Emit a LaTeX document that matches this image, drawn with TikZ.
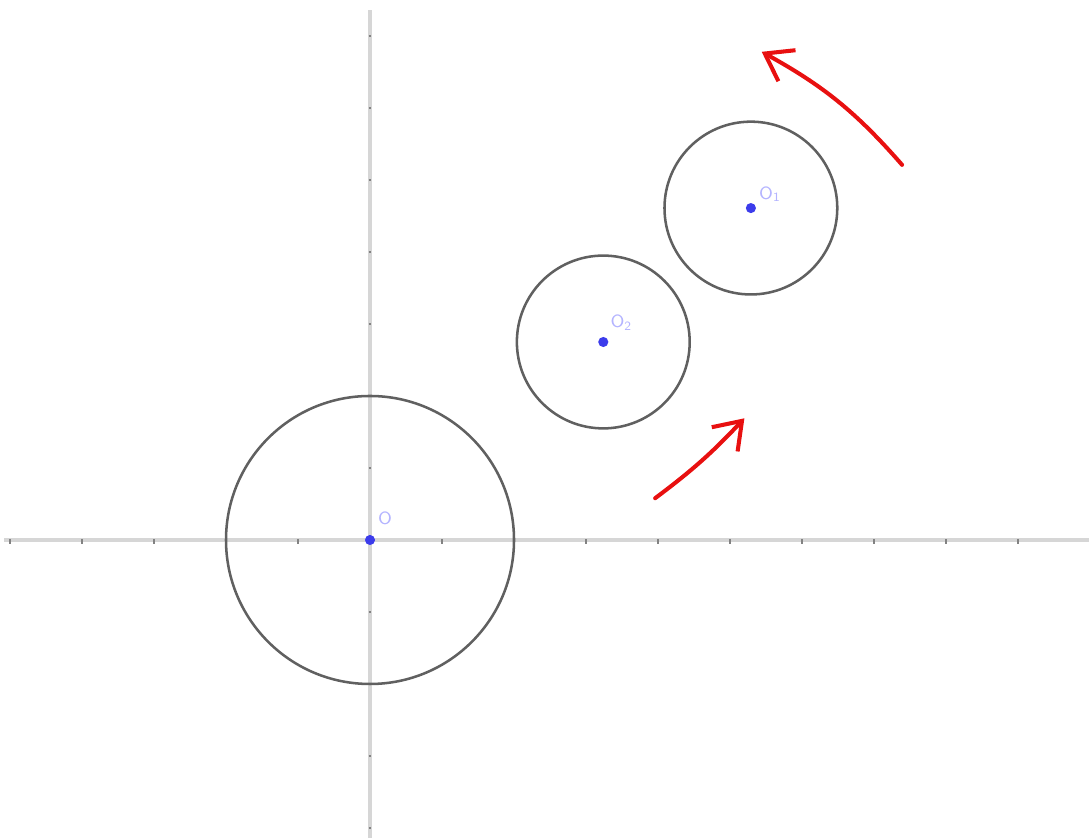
\documentclass[tikz,border=0pt]{standalone}
\usepackage{tikz}
\usetikzlibrary{arrows.meta}
\definecolor{dotblue}{RGB}{60,60,235}
\definecolor{lblblue}{RGB}{180,180,255}
\definecolor{ringgray}{RGB}{96,96,96}
\definecolor{axisgray}{RGB}{214,214,214}
\definecolor{tickgray}{RGB}{130,130,130}
\definecolor{arrowred}{RGB}{232,16,16}
\begin{document}
\begin{tikzpicture}[
		dot/.style={circle,fill=dotblue,inner sep=0pt,minimum size=4pt},
		lbl/.style={font=\sffamily\scriptsize,text=lblblue,inner sep=0pt},
		axis/.style={draw=axisgray,line width=1.2pt},
		tickmark/.style={draw=tickgray,line width=1pt},
		ring/.style={draw=ringgray,line width=1pt},
		arrow/.style={-{Straight Barb[length=10pt,width=14pt]},draw=arrowred,line width=1.6pt,line cap=round}
	]
		\useasboundingbox (-5.139,-4.139) rectangle (9.986,7.5);
	
		% 坐标轴
		\draw[axis] (-5.08,0) -- (9.986,0);
		\draw[axis] (0,-4.139) -- (0,7.36);
		\foreach \x in {-5,...,-1,1,2,...,10}
			\draw[tickmark] (\x,-0.05) -- (\x,0.01);
		\foreach \y in {-4,...,-1,1,2,...,7}
			\draw[tickmark] (-0.02,\y) -- (0.02,\y);
	
		% 圆心
		\node[dot,label={[lbl,xshift=1.5pt,yshift=4.4pt]above right:O}] (O) at (0,0) {};
		\node[dot,label={[lbl,xshift=1.1pt,yshift=2.8pt]above right:O\textsubscript{2}}] (O2) at (3.24,2.75) {};
		\node[dot,label={[lbl,xshift=1.5pt,yshift=0.8pt]above right:O\textsubscript{1}}] (O1) at (5.29,4.61) {};
	
		% 三个圆
		\draw[ring] (O) circle (2);
		\draw[ring] (O2) circle (1.2);
		\draw[ring] (O1) circle (1.2);
	
		% 旋转方向
		\coordinate (a1) at (3.96,0.58);
		\coordinate (b1) at (5.2,1.69);
		\coordinate (a2) at (7.39,5.21);
		\coordinate (b2) at (5.44,6.78);
		\draw[arrow] (a1) to[bend right=5] (b1);
		\draw[arrow] (a2) to[bend right=10] (b2);
	\end{tikzpicture}
\end{document}
